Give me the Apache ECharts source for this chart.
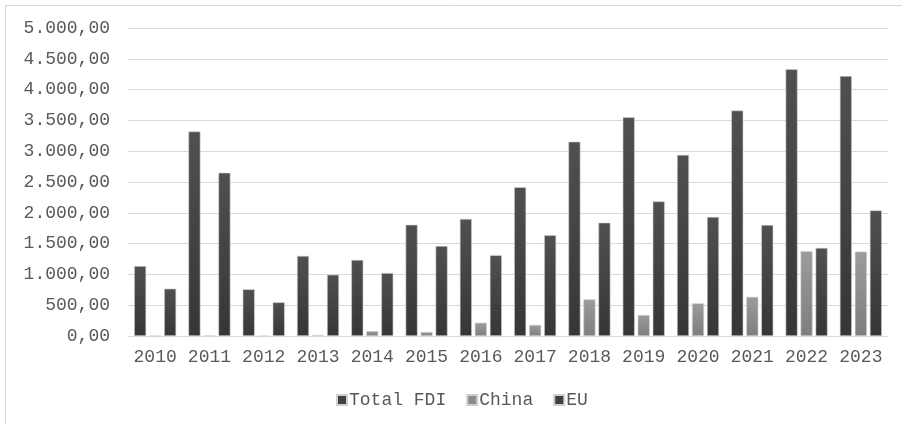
<!DOCTYPE html>
<html>
<head>
<meta charset="utf-8">
<title>FDI</title>
<script src="https://cdn.jsdelivr.net/npm/echarts@6/dist/echarts.min.js"></script>
<style>
  html, body { margin: 0; padding: 0; background: #fff; }
  #chart { width: 902px; height: 424px; }
</style>
</head>
<body>
<div id="chart"></div>
<script>
// categories and values
var years = ['2010', '2011', '2012', '2013', '2014', '2015', '2016', '2017', '2018', '2019', '2020', '2021', '2022', '2023']
var totalFdi = [1135, 3320, 758, 1300, 1235, 1805, 1900, 2415, 3155, 3550, 2940, 3660, 4330, 4220]
var china = [0, 10, 0, 15, 80, 65, 215, 180, 595, 340, 530, 635, 1375, 1370]
var eu = [768, 2650, 547, 995, 1022, 1460, 1310, 1635, 1840, 2185, 1932, 1802, 1430, 2040]
var seriesNames = ['Total FDI', 'China', 'EU']

var font = "'Courier New', 'Liberation Mono', monospace"

// 1000 -> "1.000,00"
function fmt(v) {
  var s = String(Math.round(v)).replace(/\B(?=(\d{3})+(?!\d))/g, '.')
  return s + ',00'
}

function grad(top, bottom) {
  return new echarts.graphic.LinearGradient(0, 0, 0, 1, [
    { offset: 0, color: top },
    { offset: 1, color: bottom }
  ])
}

var chart = echarts.init(document.getElementById('chart'))

function barSeries(name, data, top, bottom) {
  return {
    name: name,
    type: 'bar',
    barWidth: 12,
    barGap: '25%',
    data: data,
    itemStyle: {
      color: grad(top, bottom),
      borderColor: '#d0d0d0',
      borderWidth: 0.6
    }
  }
}

chart.setOption({
  animation: false,
  textStyle: { fontFamily: font },
  graphic: [{
    type: 'rect',
    shape: { x: 5.5, y: 5.5, width: 1000, height: 1000 },
    style: { fill: 'none', stroke: '#d9d9d9', lineWidth: 1 },
    silent: true
  }],
  grid: {
    left: 128,
    right: 14,
    top: 28,
    bottom: 88
  },
  legend: {
    data: seriesNames.map(function (n, i) {
      return { name: n, itemStyle: { color: i === 1 ? '#8c8c8c' : '#404040' } }
    }),
    left: 331,
    top: 386,
    icon: 'rect',
    itemWidth: 10,
    itemHeight: 10,
    itemGap: 20,
    textStyle: { fontFamily: font, fontSize: 18, color: '#595959', padding: [0, 0, 0, -3] }
  },
  xAxis: {
    type: 'category',
    data: years,
    axisTick: { show: false },
    axisLine: { lineStyle: { color: '#d9d9d9', width: 1 } },
    axisLabel: { interval: 0, fontFamily: font, fontSize: 18, color: '#595959', margin: 12 }
  },
  yAxis: {
    type: 'value',
    min: 0,
    max: 5000,
    interval: 500,
    axisLine: { show: false },
    axisTick: { show: false },
    splitLine: { lineStyle: { color: '#d9d9d9', width: 1 } },
    axisLabel: {
      fontFamily: font,
      fontSize: 18,
      color: '#595959',
      margin: 18,
      formatter: fmt
    }
  },
  series: [
    barSeries(seriesNames[0], totalFdi, '#505050', '#363636'),
    barSeries(seriesNames[1], china, '#9c9c9c', '#7e7e7e'),
    barSeries(seriesNames[2], eu, '#505050', '#363636')
  ]
})
</script>
</body>
</html>
